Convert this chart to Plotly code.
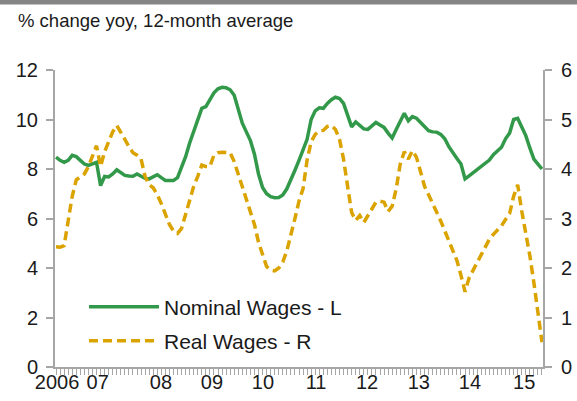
import plotly.graph_objects as go

# Monthly observations (index 0 = first month shown)
nominal_wages = [
    8.48, 8.35, 8.27, 8.35, 8.55, 8.50, 8.35, 8.20, 8.15, 8.20,
    8.27, 7.33, 7.70, 7.68, 7.80, 7.97, 7.85, 7.74, 7.72, 7.71,
    7.80, 7.70, 7.62, 7.60, 7.70, 7.77, 7.65, 7.54, 7.54, 7.54,
    7.65, 8.05, 8.50, 9.05, 9.55, 9.95, 10.45, 10.52, 10.80, 11.08,
    11.24, 11.30, 11.28, 11.20, 10.98, 10.40, 9.85, 9.50, 9.15, 8.60,
    7.80, 7.25, 7.00, 6.88, 6.84, 6.85, 6.95, 7.20, 7.55, 7.95,
    8.35, 8.75, 9.20, 10.00, 10.35, 10.47, 10.45, 10.65, 10.80, 10.90,
    10.85, 10.65, 10.20, 9.70, 9.90, 9.75, 9.62, 9.60, 9.75, 9.88,
    9.78, 9.68, 9.45, 9.25, 9.60, 9.90, 10.25, 9.95, 10.12, 10.05,
    9.88, 9.68, 9.55, 9.50, 9.49, 9.40, 9.22, 8.90, 8.63, 8.42,
    8.20, 7.60, 7.72, 7.85, 7.97, 8.10, 8.25, 8.36, 8.58, 8.75,
    8.88, 9.22, 9.45, 10.00, 10.05, 9.70, 9.35, 8.85, 8.40, 8.20,
    8.00,
]
real_wages = [
    2.43, 2.42, 2.45, 2.95, 3.45, 3.78, 3.85, 3.90, 4.05, 4.25,
    4.47, 4.05, 4.35, 4.55, 4.75, 4.88, 4.75, 4.60, 4.45, 4.33,
    4.28, 4.20, 3.85, 3.68, 3.62, 3.48, 3.30, 3.10, 2.88, 2.75,
    2.70, 2.80, 3.08, 3.40, 3.65, 3.85, 4.08, 4.05, 4.05, 4.28,
    4.33, 4.34, 4.33, 4.33, 4.15, 3.90, 3.60, 3.40, 3.15, 2.88,
    2.52, 2.25, 2.03, 1.96, 1.94, 2.00, 2.12, 2.35, 2.65, 3.00,
    3.35, 3.60, 4.18, 4.55, 4.70, 4.77, 4.78, 4.86, 4.88, 4.80,
    4.60, 4.20, 3.65, 3.12, 2.96, 3.06, 2.92, 3.05, 3.20, 3.33,
    3.35, 3.33, 3.14, 3.25, 3.60, 4.10, 4.35, 4.20, 4.37, 4.24,
    3.95, 3.65, 3.48, 3.30, 3.16, 2.95, 2.75, 2.55, 2.35, 2.15,
    1.85, 1.52, 1.80, 1.95, 2.10, 2.25, 2.40, 2.58, 2.68, 2.76,
    2.85, 2.98, 3.10, 3.45, 3.68, 3.15, 2.70, 2.25, 1.70, 1.05,
    0.50,
]
months = list(range(len(nominal_wages)))

year_labels = ["2006", "07", "08", "09", "10", "11", "12", "13", "14", "15"]
year_label_months = [0.25, 10.3, 25.9, 38.5, 51.1, 64.2, 76.8, 89.6, 102.2, 115.6]

left_ticks = [0, 2, 4, 6, 8, 10, 12]
right_ticks = [0, 1, 2, 3, 4, 5, 6]

FONT = "Liberation Sans, Arial, sans-serif"
AXIS_GREY = "#a6a6a6"
TXT = "#1a1a1a"

W, H = 577, 401
ML, MR, MT, MB = 55, 34, 70, 34
PW, PH = W - ML - MR, H - MT - MB


def px_x(x):
    return (x - ML) / PW


def px_y(y):
    return (H - MB - y) / PH


fig = go.Figure()
fig.add_trace(go.Scatter(
    x=months, y=nominal_wages, mode="lines", name="Nominal Wages - L",
    line=dict(color="#33994a", width=3.5), yaxis="y", legend="legend",
))
fig.add_trace(go.Scatter(
    x=months, y=real_wages, mode="lines", name="Real Wages - R",
    line=dict(color="#dba300", width=3.5, dash="9px,5px"), yaxis="y2", legend="legend2",
))

axis_common = dict(
    showgrid=False, zeroline=False, showline=True, linecolor=AXIS_GREY, linewidth=2,
    ticks="outside", tickcolor=AXIS_GREY, tickwidth=2, ticklen=7, automargin=False,
    tickfont=dict(family=FONT, size=20, color=TXT),
)

fig.update_layout(
    width=W, height=H,
    margin=dict(l=ML, r=MR, t=MT, b=MB, pad=0, autoexpand=False),
    paper_bgcolor="white", plot_bgcolor="white",
    font=dict(family=FONT, color=TXT),
    xaxis=dict(
        range=[-0.25, len(months) - 0.75], automargin=False, tickangle=0,
        showgrid=False, zeroline=False, showline=True, linecolor=AXIS_GREY, linewidth=2,
        tickmode="array", tickvals=year_label_months, ticktext=year_labels,
        ticks="", tickfont=dict(family=FONT, size=20, color=TXT),
        minor=dict(tickmode="linear", tick0=0, dtick=1, ticks="outside",
                   ticklen=6, tickwidth=1, tickcolor=AXIS_GREY),
        ticklabelstandoff=-4,
    ),
    yaxis=dict(range=[0, 12], tickmode="array", tickvals=left_ticks, side="left",
               ticklabelstandoff=4, **axis_common),
    yaxis2=dict(range=[0, 6], tickmode="array", tickvals=right_ticks, side="right",
                overlaying="y", ticklabelstandoff=5, **axis_common),
    showlegend=True,
    legend=dict(x=px_x(84), y=px_y(307), xanchor="left", yanchor="middle",
                bgcolor="rgba(0,0,0,0)", itemwidth=70,
                font=dict(family=FONT, size=21, color=TXT)),
    legend2=dict(x=px_x(84), y=px_y(341), xanchor="left", yanchor="middle",
                 bgcolor="rgba(0,0,0,0)", itemwidth=70,
                 font=dict(family=FONT, size=21, color=TXT)),
    shapes=[dict(type="rect", xref="paper", yref="paper",
                 x0=px_x(0), x1=px_x(W), y0=px_y(4.4), y1=px_y(0),
                 fillcolor="#858585", line=dict(width=0), layer="above")],
    annotations=[dict(text="% change yoy, 12-month average", xref="paper", yref="paper",
                      x=px_x(16), y=px_y(21), xanchor="left", yanchor="middle",
                      showarrow=False, font=dict(family=FONT, size=18.5, color=TXT))],
)

fig.write_html(
    "out.html",
    config={"displayModeBar": False},
    post_script="document.body.style.margin='0';document.body.style.padding='0';",
)
